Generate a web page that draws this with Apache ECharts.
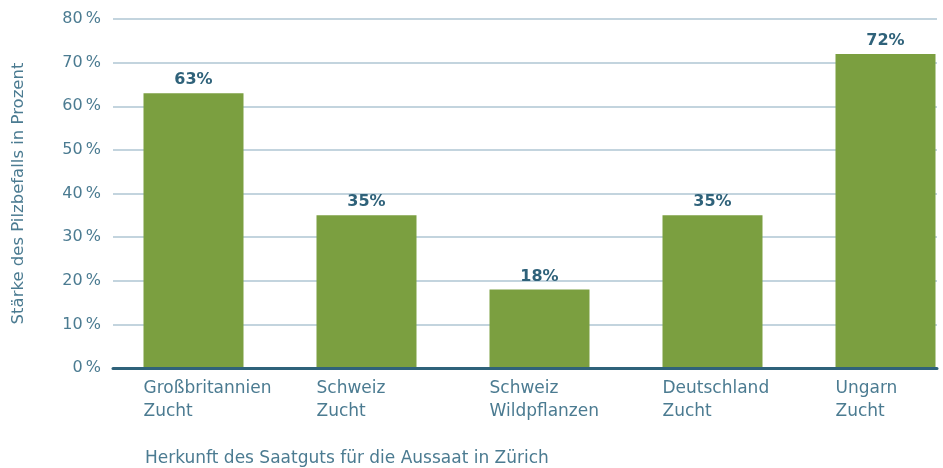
<!DOCTYPE html>
<html>
<head>
<meta charset="utf-8">
<script src="https://cdn.jsdelivr.net/npm/echarts@6/dist/echarts.min.js"></script>
<style>
  html, body { margin: 0; padding: 0; background: #fff; }
  #chart { width: 943px; height: 468px; }
</style>
</head>
<body>
<div id="chart"></div>
<script>
const categories = [
  'Großbritannien\nZucht',
  'Schweiz\nZucht',
  'Schweiz\nWildpflanzen',
  'Deutschland\nZucht',
  'Ungarn\nZucht'
];
const befall = [63, 35, 18, 35, 72];
const yTicks = [0, 10, 20, 30, 40, 50, 60, 70, 80];

const textColor = '#4b7b91';
const darkBlue = '#2f627a';

const chart = echarts.init(document.getElementById('chart'));
chart.setOption({
  animation: false,
  textStyle: { fontFamily: '"DejaVu Sans", sans-serif' },
  title: {
    text: 'Herkunft des Saatguts für die Aussaat in Zürich',
    left: 140,
    top: 445,
    textStyle: { color: textColor, fontSize: 17, fontWeight: 'normal', fontFamily: '"DejaVu Sans"' }
  },
  grid: [
    // bars + category labels (bands run past the right edge like in the original)
    { left: 107, width: 865, top: 19, bottom: 100, outerBoundsMode: 'none' },
    // gridlines, y labels, baseline
    { left: 113, right: 6, top: 19, bottom: 100, outerBoundsMode: 'none' }
  ],
  xAxis: [
    {
      gridIndex: 0,
      type: 'category',
      data: categories,
      axisLine: { show: false },
      axisTick: { show: false },
      axisLabel: {
        interval: 0,
        margin: 9,
        color: textColor,
        fontSize: 17,
        lineHeight: 23,
        formatter: (v) => v.split('\n').map((l) => '{a|' + l + '}').join('\n'),
        rich: { a: { width: 100, align: 'left', fontSize: 17, lineHeight: 23, color: textColor } }
      }
    },
    {
      gridIndex: 1,
      type: 'value',
      min: 0,
      max: 1,
      z: 5,
      axisLine: { show: true, lineStyle: { color: darkBlue, width: 3 } },
      axisTick: { show: false },
      axisLabel: { show: false },
      splitLine: { show: false }
    }
  ],
  yAxis: [
    {
      gridIndex: 0,
      type: 'value',
      min: 0,
      max: 80,
      interval: 10,
      show: false
    },
    {
      gridIndex: 1,
      type: 'value',
      min: yTicks[0],
      max: yTicks[yTicks.length - 1],
      interval: 10,
      name: 'Stärke des Pilzbefalls in Prozent',
      nameLocation: 'middle',
      nameGap: 86,
      nameTextStyle: { color: textColor, fontSize: 16.5 },
      axisLine: { show: false },
      axisTick: { show: false },
      axisLabel: {
        margin: 12,
        color: textColor,
        fontSize: 16,
        formatter: '{value}\u2009%'
      },
      splitLine: { lineStyle: { color: '#afc6d3', width: 1.5 } }
    }
  ],
  series: [
    {
      type: 'bar',
      xAxisIndex: 0,
      yAxisIndex: 0,
      data: befall,
      barWidth: 100,
      itemStyle: { color: '#7b9f40' },
      label: {
        show: true,
        position: 'top',
        distance: 5,
        formatter: '{c}%',
        color: darkBlue,
        fontSize: 16,
        fontWeight: 'bold'
      }
    }
  ]
});
</script>
</body>
</html>
